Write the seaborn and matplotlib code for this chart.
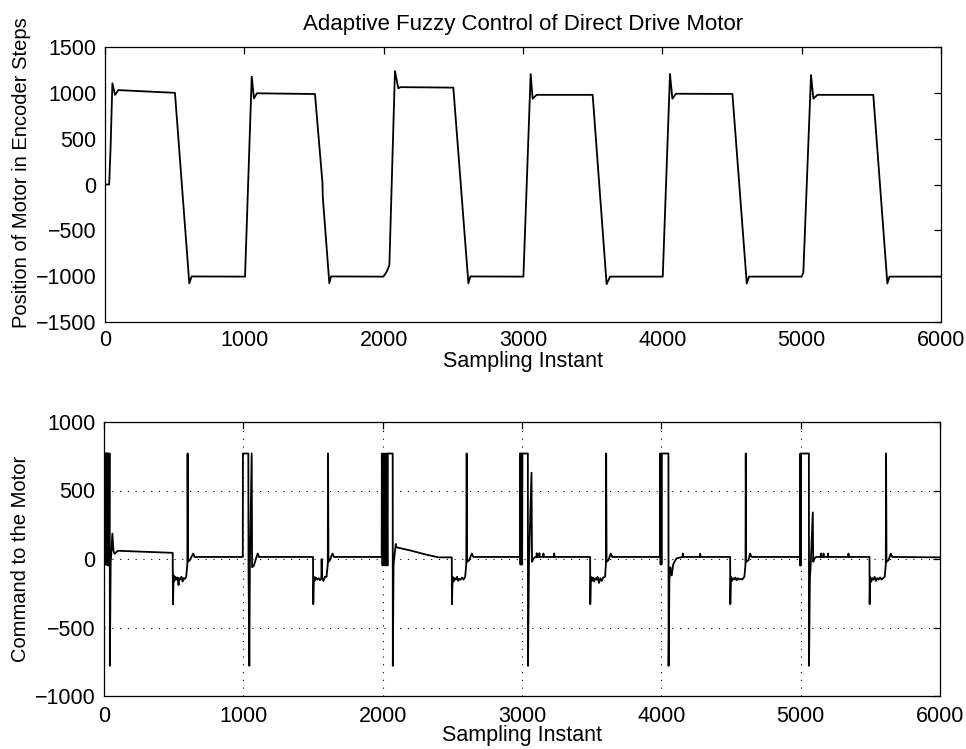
import matplotlib
matplotlib.use("Agg")
import matplotlib.pyplot as plt
import seaborn as sns
import pandas as pd

# ---------------- data ----------------
title_text = "Adaptive Fuzzy Control of Direct Drive Motor"
xlabel_text = "Sampling Instant"
ylabel_top = "Position of Motor in Encoder Steps"
ylabel_bot = "Command to the Motor"

x_ticks = [0, 1000, 2000, 3000, 4000, 5000, 6000]
y_ticks_top = [-1500, -1000, -500, 0, 500, 1000, 1500]
y_ticks_bot = [-1000, -500, 0, 500, 1000]

# Position of motor (encoder steps) - vertices
pos_x = [0, 30, 40, 53, 72, 96, 200, 502,
         605, 622, 1005,
         1053, 1069, 1090, 1507,
         1561, 1563, 1610, 1622, 1998, 2022, 2041,
         2081, 2105, 2120, 2500,
         2608, 2622, 3003,
         3055, 3069, 3098, 3500,
         3600, 3625, 4003,
         4055, 4072, 4098, 4503,
         4606, 4622, 5000, 5012,
         5067, 5084, 5113, 5514,
         5615, 5630, 6000]
pos_y = [0, 0, 400, 1104, 977, 1030, 1022, 1000,
         -1078, -1003, -1005,
         1176, 939, 995, 987,
         13, -133, -1078, -1003, -1005, -951, -878,
         1238, 1049, 1062, 1057,
         -1078, -1003, -1005,
         1205, 936, 978, 978,
         -1086, -1005, -1005,
         1205, 936, 990, 988,
         -1080, -1005, -1005, -960,
         1194, 936, 978, 978,
         -1080, -1005, -1005]

# Command to the motor - vertices
cmd_x = [0, 1, 3, 5, 7, 9, 11, 13, 15, 17, 19, 21, 23, 25, 27, 29, 31, 31, 36, 38, 41,
         42, 48, 52, 60, 68, 76, 100, 300, 493,
         495, 500, 505, 512, 520, 528, 535, 540, 548, 556, 564, 572, 580, 590,
         598, 600, 603, 615, 630, 641, 650, 996,
         997, 1036, 1037, 1043, 1047, 1060, 1063, 1075, 1090, 1103, 1112, 1500,
         1502, 1506, 1512, 1520, 1530, 1540, 1550, 1560, 1562, 1565, 1575, 1585, 1597,
         1606, 1608, 1611, 1620, 1640, 1650, 1993,
         1994, 1999, 2005, 2011, 2017, 2023, 2030,
         2033, 2036, 2037, 2072, 2073, 2078, 2094, 2100, 2200, 2300, 2400, 2496,
         2497, 2502, 2510, 2518, 2526, 2534, 2542, 2550, 2560, 2570, 2580, 2592,
         2600, 2603, 2606, 2620, 2640, 2650, 2985,
         2986, 2989, 2992, 2995, 2998, 3001, 3003, 3042, 3043, 3050, 3068, 3072, 3080,
         3095, 3104, 3106, 3108, 3123, 3125, 3127, 3152, 3154, 3156, 3229, 3231, 3233, 3489,
         3490, 3494, 3502, 3510, 3518, 3526, 3534, 3542, 3552, 3562, 3572, 3582, 3596,
         3602, 3604, 3607, 3620, 3637, 3648, 3991,
         3992, 3995, 3998, 4001, 4004, 4051, 4052, 4058, 4065, 4075, 4085, 4100, 4111,
         4152, 4154, 4156, 4277, 4279, 4281, 4494,
         4495, 4499, 4507, 4515, 4523, 4531, 4540, 4550, 4560, 4570, 4580, 4596,
         4604, 4606, 4609, 4625, 4637, 4648, 4997,
         4997, 4998, 5000, 5003, 5059, 5060, 5066, 5072, 5087, 5090, 5100, 5110,
         5143, 5145, 5147, 5162, 5164, 5166, 5194, 5196, 5198, 5341, 5343, 5345, 5494,
         5495, 5499, 5507, 5515, 5523, 5531, 5540, 5550, 5560, 5570, 5580, 5603,
         5611, 5613, 5616, 5630, 5647, 5658, 6000]
cmd_y = [0, 770, -40, 770, -40, 770, -40, 770, -40, 770, -40, 770, -40, 770, -40, 770, 770, -47, -47, 770, 770,
         -780, -20, 30, 185, 60, 38, 60, 52, 45,
         -330, -120, -160, -130, -150, -135, -190, -140, -150, -130, -165, -140, -145, -130,
         -40, 770, -20, -10, 20, 40, 15, 15,
         770, 770, -40, -780, -40, 770, -60, -50, 0, 40, 15, 15,
         -330, -130, -160, -135, -150, -140, -155, -140, 0, -140, -160, -130, -130,
         -40, 770, -20, -10, 40, 15, 15,
         770, -47, 770, -47, 770, -47, 770,
         -47, -47, 770, 770, -780, -40, 110, 85, 62, 35, 12, 12,
         -330, -130, -165, -140, -150, -130, -160, -145, -150, -135, -150, -130,
         -40, 770, -20, -10, 40, 15, 15,
         770, -40, 770, -40, 770, -40, 770, 770, -780, -40, 630, -20, 0,
         15, 15, 42, 15, 15, 42, 15, 15, 40, 15, 15, 40, 15, 15,
         -330, -130, -160, -135, -165, -140, -150, -130, -175, -140, -160, -135, -130,
         -40, 770, -20, -10, 40, 15, 15,
         770, -40, 770, -40, 770, 770, -780, -150, -60, -120, -40, -10, 5,
         15, 40, 15, 15, 38, 15, 15,
         -330, -130, -160, -140, -150, -135, -155, -140, -150, -145, -150, -130,
         -40, 770, -20, -10, 40, 15, 15,
         -47, 770, -47, 770, 770, -780, -150, -40, 340, -20, 5, 15,
         15, 40, 15, 15, 40, 15, 15, 40, 15, 15, 40, 15, 15,
         -330, -130, -165, -140, -150, -130, -160, -140, -150, -135, -150, -130,
         -40, 770, -20, -10, 40, 15, 12]

pos_df = pd.DataFrame({"sample": pos_x, "position": pos_y})
cmd_df = pd.DataFrame({"sample": cmd_x, "command": cmd_y})

# ---------------- style ----------------
sns.set_theme(style="white")
plt.rcParams["font.family"] = ["Liberation Sans", "DejaVu Sans"]
plt.rcParams["axes.edgecolor"] = "black"
plt.rcParams["axes.linewidth"] = 0.9

fig = plt.figure(figsize=(9.66, 7.49), dpi=100)
ax1 = fig.add_axes([105 / 966, 1 - 322 / 749, 836 / 966, 275 / 749])
ax2 = fig.add_axes([104 / 966, 1 - 696 / 749, 836 / 966, 274 / 749])

TICK_FS = 15.5
LABEL_FS = 15.5
YLABEL_FS = 14.5
TITLE_FS = 16

sns.lineplot(data=pos_df, x="sample", y="position", ax=ax1, color="black",
             linewidth=1.3, sort=False, estimator=None)
sns.lineplot(data=cmd_df, x="sample", y="command", ax=ax2, color="black",
             linewidth=1.3, sort=False, estimator=None)

for ax, yt, xpad, lpad in ((ax1, y_ticks_top, 6, 0), (ax2, y_ticks_bot, 7, -1)):
    ax.set_xlim(0, 6000)
    ax.set_ylim(yt[0], yt[-1])
    ax.set_xticks(x_ticks)
    ax.set_yticks(yt)
    ax.set_xticklabels([str(v) for v in x_ticks])
    ax.set_yticklabels([str(v).replace("-", "\u2212") for v in yt])
    ax.tick_params(direction="in", length=5, width=0.9, top=True, right=True,
                   labelsize=TICK_FS, colors="black", pad=6)
    ax.tick_params(axis="x", pad=xpad)
    for s in ax.spines.values():
        s.set_visible(True)
        s.set_color("black")
    ax.set_xlabel(xlabel_text, fontsize=LABEL_FS, color="black", labelpad=lpad)

ax1.set_ylabel(ylabel_top, fontsize=YLABEL_FS, color="black")
ax1.yaxis.set_label_coords(-0.088, 0.545)
ax2.set_ylabel(ylabel_bot, fontsize=YLABEL_FS, color="black")
ax2.yaxis.set_label_coords(-0.088, 0.5)
ax1.set_title(title_text, fontsize=TITLE_FS, color="black", pad=12)

ax2.grid(True, which="major", axis="both", color="black",
         linestyle=(0, (1, 6)), linewidth=0.8)
ax2.set_axisbelow(True)
ax1.grid(False)

fig.savefig("out.png", dpi=100, facecolor="white")
